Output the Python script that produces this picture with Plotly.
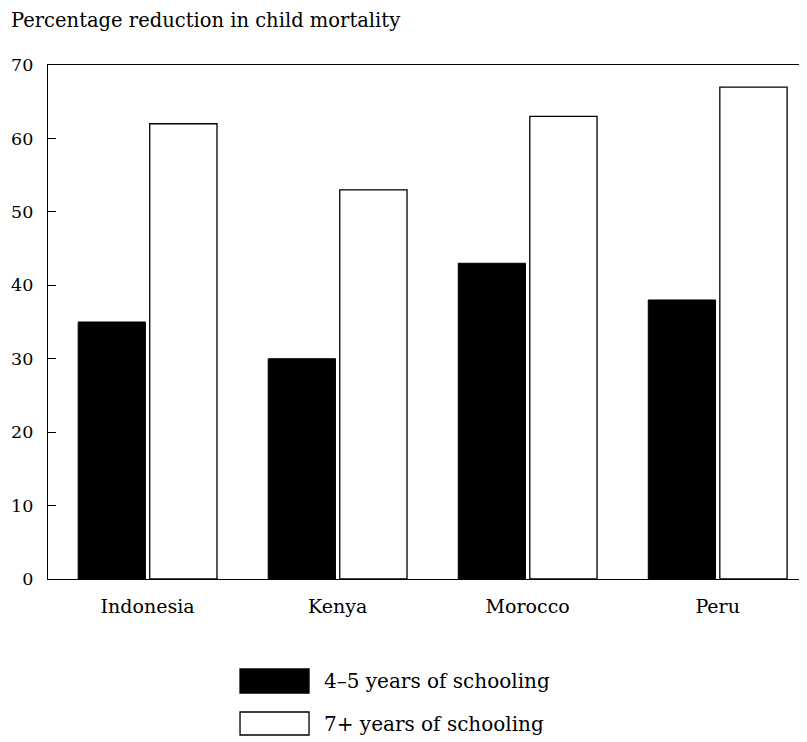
import plotly.graph_objects as go

countries = ["Indonesia", "Kenya", "Morocco", "Peru"]
school_4_5 = [35, 30, 43, 38]
school_7p = [62, 53, 63, 67]
series_names = ["4–5 years of schooling", "7+ years of schooling"]
y_ticks = [0, 10, 20, 30, 40, 50, 60, 70]

FONT = "DejaVu Serif"

fig = go.Figure()
fig.add_trace(go.Bar(x=countries, y=school_4_5, name=series_names[0],
                     marker=dict(color="black", line=dict(color="black", width=1))))
fig.add_trace(go.Bar(x=countries, y=school_7p, name=series_names[1],
                     marker=dict(color="white", line=dict(color="black", width=1.3))))

# page body has an 8px margin, so the figure is sized/margined to compensate
fig.update_layout(
    width=799, height=734,
    margin=dict(l=40, r=0, t=57, b=163),
    paper_bgcolor="white", plot_bgcolor="white",
    barmode="group", bargap=0.247, bargroupgap=0.06,
    showlegend=False,
    font=dict(family=FONT, color="black", size=17),
)
fig.update_xaxes(range=[-0.524, 3.47], showline=True, linecolor="black", linewidth=1.3,
                 mirror=True, ticks="", showgrid=False, ticklabelstandoff=10,
                 tickfont=dict(family=FONT, size=19))
fig.update_yaxes(range=[0, 70], tickvals=y_ticks, showline=True, linecolor="black",
                 linewidth=1.3, ticks="inside", ticklen=8, tickcolor="black", tickwidth=1.3,
                 showgrid=False, zeroline=False, ticklabelstandoff=10,
                 tickfont=dict(family=FONT, size=17.5))

fig.add_annotation(text="Percentage reduction in child mortality", xref="paper", yref="paper",
                   x=-0.0505, y=1.1109, xanchor="left", yanchor="top", showarrow=False,
                   borderpad=0, font=dict(family=FONT, size=19.5))

# legend drawn manually (wide swatches)
legend_rows = [(-0.1751, -0.2218, "black"), (-0.2588, -0.3035, "white")]
for (y0, y1, col), name in zip(legend_rows, series_names):
    fig.add_shape(type="rect", xref="paper", yref="paper", x0=0.2530, x1=0.3439,
                  y0=y1, y1=y0, fillcolor=col, line=dict(color="black", width=1.3))
    fig.add_annotation(text=name, xref="paper", yref="paper", x=0.361, y=(y0 + y1) / 2,
                       xanchor="left", yanchor="middle", showarrow=False,
                       font=dict(family=FONT, size=20))

fig.write_html("out.html")
